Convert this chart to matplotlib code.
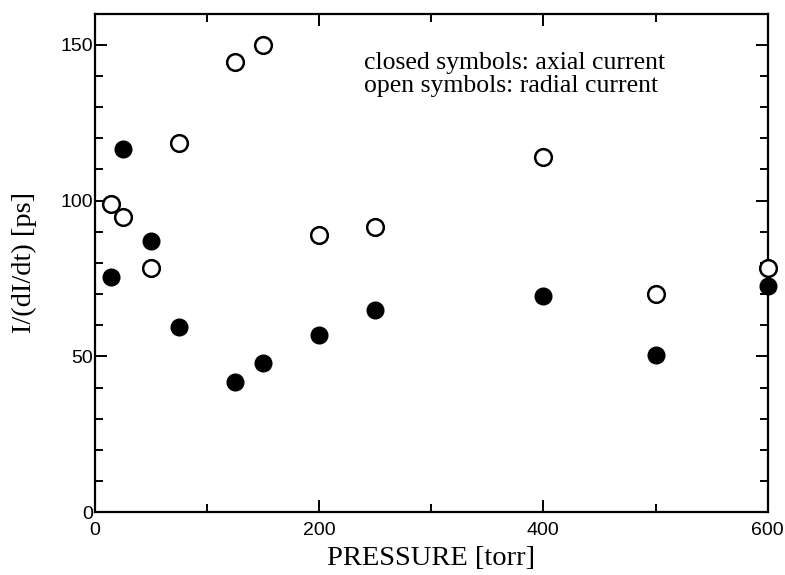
import numpy as np
import matplotlib
matplotlib.use("Agg")
import matplotlib.pyplot as plt
from matplotlib.ticker import MultipleLocator

# pressure [torr]
pressure = [15, 25, 50, 75, 125, 150, 200, 250, 400, 500, 600]
# closed symbols: axial current
axial = [75.5, 116.5, 87, 59.5, 41.7, 47.8, 57, 65, 69.3, 50.5, 72.5]
# open symbols: radial current
radial = [99, 94.7, 78.4, 118.5, 144.5, 150, 89, 91.5, 114, 70, 78.5]

fig = plt.figure(figsize=(7.85, 5.75), dpi=100)
ax = fig.add_axes([0.1204, 0.109, 0.8576, 0.8675])

ax.plot(pressure, radial, 'o', ms=12, mfc='white', mec='black', mew=1.8, clip_on=False, zorder=3)
ax.plot(pressure, axial, 'o', ms=12, mfc='black', mec='black', clip_on=False, zorder=4)

ax.set_xlim(0, 600)
ax.set_ylim(0, 160)
ax.set_xticks([0, 200, 400, 600])
ax.xaxis.set_minor_locator(MultipleLocator(100))
ax.set_yticks([0, 50, 100, 150])
ax.yaxis.set_minor_locator(MultipleLocator(10))

ax.tick_params(which='both', direction='in', top=True, right=True, width=1.4, labelsize=14, colors='black')
ax.tick_params(which='major', length=8.5)
ax.tick_params(which='minor', length=5.5)
ax.tick_params(axis='x', which='major', pad=7)
ax.tick_params(axis='y', which='major', pad=1)
for lab in ax.get_xticklabels() + ax.get_yticklabels():
    lab.set_fontfamily('Liberation Sans')

for s in ax.spines.values():
    s.set_linewidth(1.6)

ax.set_xlabel('PRESSURE [torr]', fontfamily='Liberation Serif', fontsize=20.5, labelpad=5)
ax.set_ylabel('I/(dI/dt) [ps]', fontfamily='Liberation Serif', fontsize=20.5, labelpad=17)

ax.text(240, 147.5, 'closed symbols: axial current\nopen symbols: radial current',
        fontfamily='Liberation Serif', fontsize=18.5, linespacing=1.05, ha='left', va='top')

plt.savefig('out.png', dpi=100)
